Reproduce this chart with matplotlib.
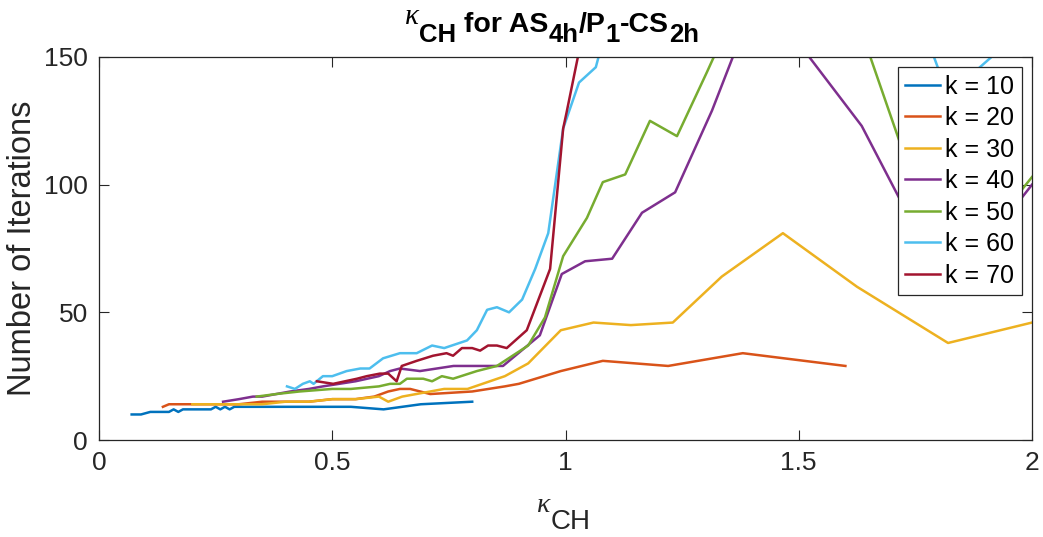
import numpy as np
import matplotlib
matplotlib.use('Agg')
import matplotlib.pyplot as plt
from matplotlib.transforms import IdentityTransform

plt.rcParams['font.family'] = ['Liberation Sans', 'DejaVu Sans']

# kappa_CH values and iteration counts for each k
x10 = [0.07, 0.09, 0.11, 0.13, 0.15, 0.16, 0.17, 0.18, 0.20, 0.22, 0.24, 0.25, 0.26, 0.27,
       0.28, 0.29, 0.30, 0.35, 0.45, 0.54, 0.61, 0.69, 0.80]
y10 = [10, 10, 11, 11, 11, 12, 11, 12, 12, 12, 12, 13, 12, 13, 12, 13, 13, 13, 13, 13, 12, 14, 15]

x20 = [0.137, 0.15, 0.20, 0.25, 0.30, 0.35, 0.40, 0.45, 0.50, 0.55, 0.59, 0.62, 0.645, 0.667,
       0.71, 0.80, 0.87, 0.90, 0.99, 1.08, 1.22, 1.38, 1.60]
y20 = [13, 14, 14, 14, 14, 15, 15, 15, 16, 16, 17, 19, 20, 20, 18, 19, 21, 22, 27, 31, 29, 34, 29]

x30 = [0.20, 0.25, 0.30, 0.35, 0.40, 0.45, 0.50, 0.55, 0.60, 0.62, 0.65, 0.68, 0.74, 0.79,
       0.87, 0.92, 0.99, 1.06, 1.14, 1.23, 1.335, 1.466, 1.625, 1.82, 2.0]
y30 = [14, 14, 14, 14, 15, 15, 16, 16, 17, 15, 17, 18, 20, 20, 25, 30, 43, 46, 45, 46, 64, 81,
       60, 38, 46]

x40 = [0.266, 0.30, 0.33, 0.35, 0.41, 0.45, 0.48, 0.55, 0.60, 0.624, 0.645, 0.688, 0.76, 0.866,
       0.945, 0.992, 1.042, 1.10, 1.164, 1.235, 1.314, 1.38, 1.46, 1.635, 1.82, 2.0]
y40 = [15, 16, 17, 17, 19, 20, 21, 23, 25, 27, 28, 27, 29, 29, 41, 65, 70, 71, 89, 97, 129, 160,
       165, 123, 58, 100]

x50 = [0.338, 0.38, 0.43, 0.50, 0.54, 0.60, 0.624, 0.645, 0.66, 0.695, 0.714, 0.735, 0.759,
       0.81, 0.853, 0.92, 0.956, 0.995, 1.046, 1.08, 1.128, 1.181, 1.239, 1.303, 1.38, 1.46,
       1.625, 1.82, 2.0]
y50 = [17, 18, 19, 20, 20, 21, 22, 22, 24, 24, 23, 25, 24, 27, 29, 37, 48, 72, 87, 101, 104,
       125, 119, 144, 175, 190, 165, 62, 103]

x60 = [0.403, 0.42, 0.437, 0.452, 0.46, 0.48, 0.50, 0.531, 0.56, 0.58, 0.609, 0.645, 0.681,
       0.714, 0.74, 0.789, 0.81, 0.832, 0.853, 0.879, 0.907, 0.935, 0.963, 0.995, 1.029,
       1.065, 1.10, 1.46, 1.625, 1.82, 2.0]
y60 = [21, 20, 22, 23, 22, 25, 25, 27, 28, 28, 32, 34, 34, 37, 36, 39, 43, 51, 52, 50, 55, 67,
       81, 122, 140, 146, 170, 250, 232, 135, 164]

x70 = [0.467, 0.502, 0.553, 0.574, 0.602, 0.62, 0.638, 0.649, 0.681, 0.716, 0.745, 0.759,
       0.778, 0.80, 0.817, 0.834, 0.853, 0.874, 0.917, 0.967, 0.995, 1.002, 1.06]
y70 = [23, 22, 24, 25, 26, 26, 23, 29, 31, 33, 34, 33, 36, 36, 35, 37, 37, 36, 43, 67, 122,
       128, 180]

series = [(x10, y10), (x20, y20), (x30, y30), (x40, y40), (x50, y50), (x60, y60), (x70, y70)]
labels = ['k = 10', 'k = 20', 'k = 30', 'k = 40', 'k = 50', 'k = 60', 'k = 70']
colors = ['#0072BD', '#D95319', '#EDB120', '#7E2F8E', '#77AC30', '#4DBEEE', '#A2142F']

W, H = 1043, 537
fig = plt.figure(figsize=(W / 100, H / 100), dpi=100)
ax = fig.add_axes([99/W, 1 - 440/H, (1032 - 99)/W, (440 - 57)/H])

for (xs, ys), lab, col in zip(series, labels, colors):
    ax.plot(xs, ys, color=col, lw=1.8, label=lab)

ax.set_xlim(0, 2)
ax.set_ylim(0, 150)
ax.set_xticks([0, 0.5, 1, 1.5, 2])
ax.set_xticklabels(['0', '0.5', '1', '1.5', '2'])
ax.set_yticks([0, 50, 100, 150])
ax.tick_params(direction='in', length=7, width=0.8, labelsize=19, colors='#262626',
               top=True, right=True, pad=8)
for s in ax.spines.values():
    s.set_color('#262626')
    s.set_linewidth(0.9)

ax.set_ylabel('Number of Iterations', fontsize=23.5, color='#262626', labelpad=4)

leg = ax.legend(loc='upper right', fontsize=18, frameon=True, fancybox=False, framealpha=1,
                edgecolor='#262626', handlelength=1.4, handletextpad=0.2,
                borderaxespad=0.4, labelspacing=0.3, borderpad=0.3)
leg.get_frame().set_linewidth(0.9)


# TeX-like labels built from pieces: (text, size, props, baseline shift in px)
def compose(pieces, xc, ybase):
    r = fig.canvas.get_renderer()
    texts = []
    for s, size, kw, dy in pieces:
        t = fig.text(0, 0, s, fontsize=size, transform=IdentityTransform(),
                     ha='left', va='baseline', **kw)
        texts.append((t, dy))
    widths = [t.get_window_extent(r).width for t, _ in texts]
    x = xc - sum(widths) / 2
    for (t, dy), w in zip(texts, widths):
        t.set_position((x, ybase + dy))
        x += w


kap = dict(family='Liberation Serif', style='italic', color='#000000')
bold = dict(fontweight='bold', color='#000000')
compose([('κ', 21, kap, 8), ('CH', 18.5, bold, -10), (' for AS', 20.5, bold, 0),
         ('4h', 18.5, bold, -10), ('/P', 20.5, bold, 0), ('1', 18.5, bold, -10),
         ('-CS', 20.5, bold, 0), ('2h', 18.5, bold, -10)], 552, H - 32)

kap2 = dict(family='Liberation Serif', style='italic', color='#262626')
compose([('κ', 20, kap2, 17), ('CH', 20, dict(color='#262626'), 0)], 564, H - 529)

plt.savefig('out.png', dpi=100)
